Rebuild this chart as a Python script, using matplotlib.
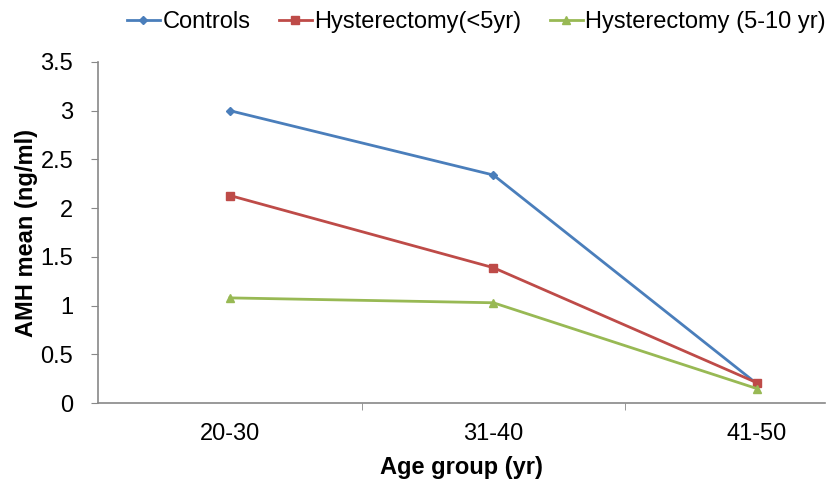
import matplotlib.pyplot as plt
from matplotlib.ticker import FixedLocator

plt.rcParams['font.family'] = ['Liberation Sans', 'DejaVu Sans']

groups = ['20-30', '31-40', '41-50']
controls = [3.0, 2.34, 0.2]
hyst_lt5 = [2.13, 1.39, 0.21]
hyst_5_10 = [1.08, 1.03, 0.15]

fig = plt.figure(figsize=(8.32, 4.8), dpi=100)
ax = fig.add_axes([0.118, 0.160, 0.874, 0.711])

x = range(len(groups))
ax.plot(x, controls, color='#4a7ebb', marker='D', markersize=4, lw=2, label='Controls')
ax.plot(x, hyst_lt5, color='#be4b48', marker='s', markersize=6, lw=2, label='Hysterectomy(<5yr)')
ax.plot(x, hyst_5_10, color='#98b954', marker='^', markersize=6, lw=2, label='Hysterectomy (5-10 yr)')

ax.set_xlim(-0.5, 2.26)
ax.set_ylim(0, 3.5)
ax.set_yticks([0, 0.5, 1, 1.5, 2, 2.5, 3, 3.5])
ax.set_yticklabels(['0', '0.5', '1', '1.5', '2', '2.5', '3', '3.5'])
ax.set_xticks(list(x))
ax.set_xticklabels(groups)
ax.xaxis.set_minor_locator(FixedLocator([0.5, 1.5]))
ax.tick_params(axis='x', which='major', length=0, pad=14, labelsize=17)
ax.tick_params(axis='x', which='minor', length=5, color='#888888')
ax.tick_params(axis='y', length=5, color='#888888', labelsize=17, pad=13)

for s in ['top', 'right']:
    ax.spines[s].set_visible(False)
ax.spines['left'].set_color('#888888')
ax.spines['bottom'].set_color('#888888')
ax.spines['left'].set_linewidth(1.2)
ax.spines['bottom'].set_linewidth(1.2)

ax.set_xlabel('Age group (yr)', fontsize=17, fontweight='bold', labelpad=8)
ax.set_ylabel('AMH mean (ng/ml)', fontsize=17, fontweight='bold', labelpad=2)

ax.legend(loc='center', bbox_to_anchor=(0.52, 1.117), ncol=3, frameon=False,
          fontsize=17, handlelength=1.4, handletextpad=0.1, columnspacing=1.2, borderpad=0)

fig.savefig('out.png')
